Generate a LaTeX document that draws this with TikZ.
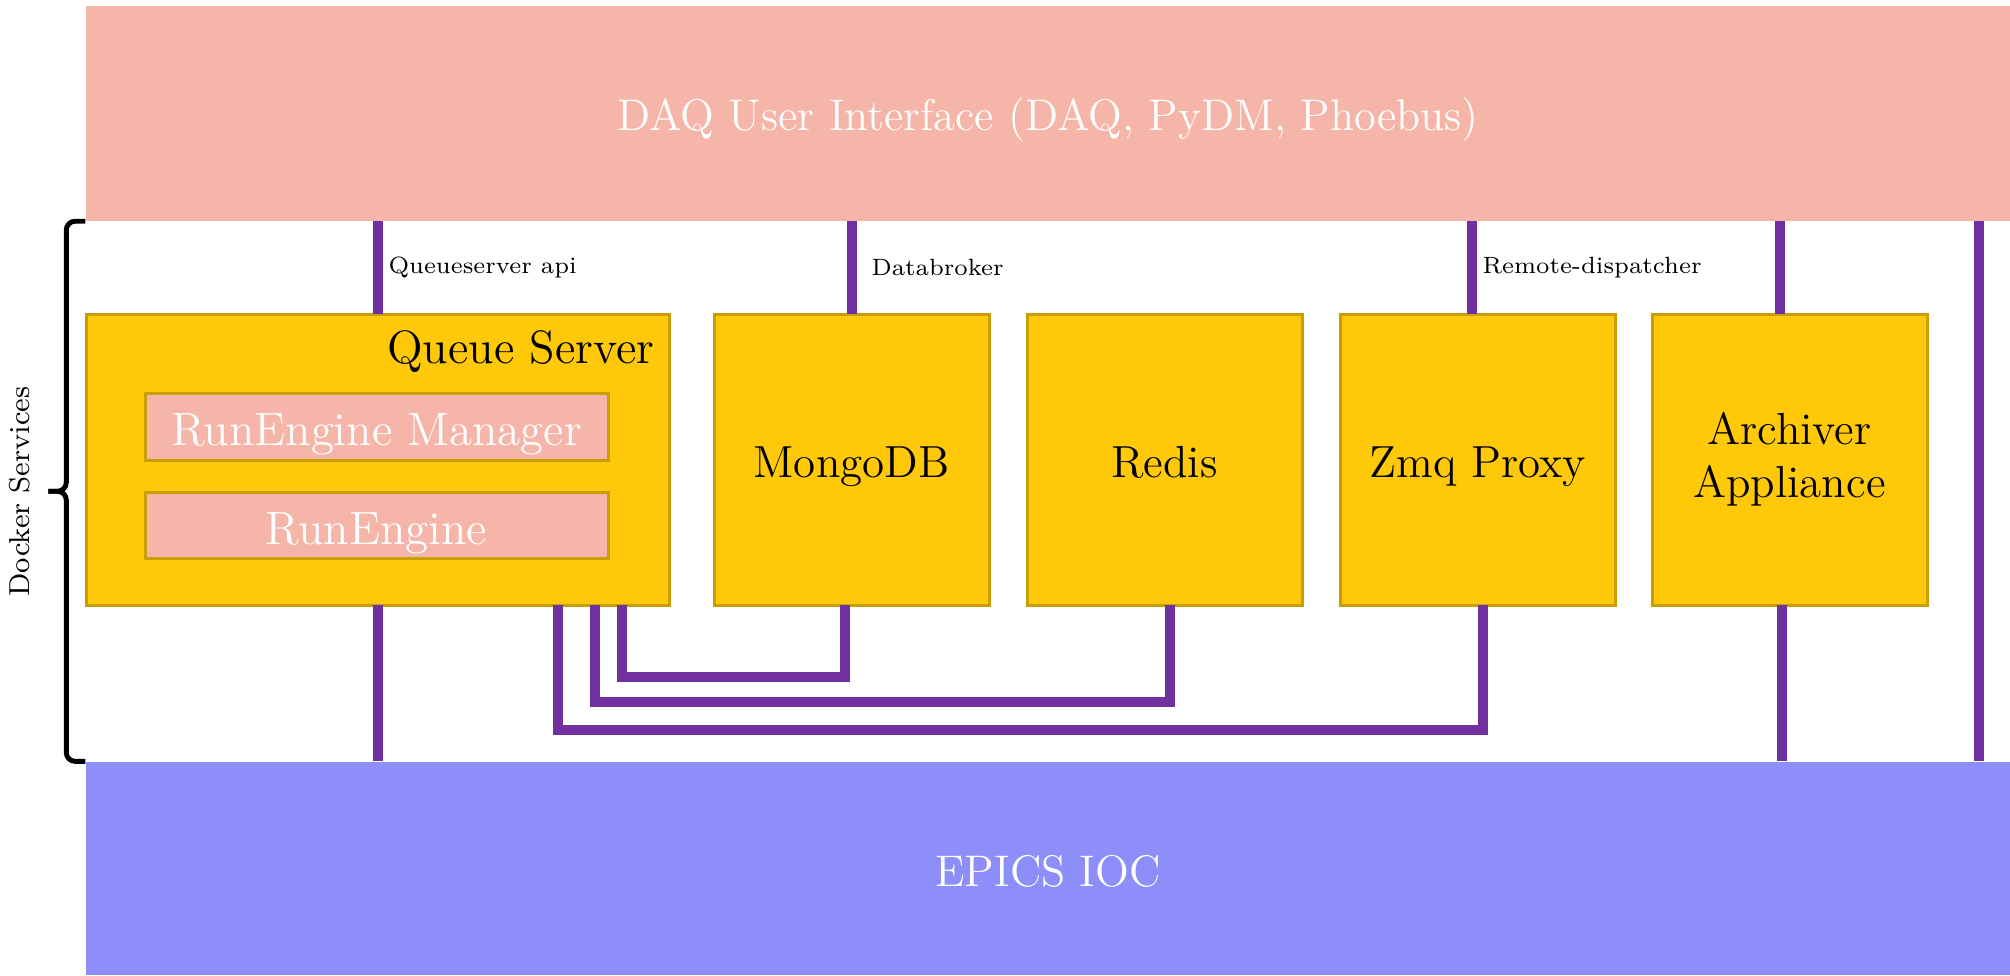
\documentclass[tikz,border=0pt]{standalone}
\usetikzlibrary{positioning,calc}
\definecolor{salmon}{HTML}{F5B5A8}
\definecolor{periwinkle}{HTML}{8E8EFA}
\definecolor{gold}{HTML}{FFC90A}
\definecolor{darkgold}{HTML}{C89E00}
\definecolor{linkpurple}{HTML}{7030A0}
\tikzset{bar/.style={fill=salmon,minimum width=19.24cm,inner sep=0,text=white,text height=10pt,text depth=0pt,font=\fontsize{12.6}{15}\selectfont},svc/.style={draw=darkgold,line width=0.03cm,fill=gold,minimum width=2.75cm,minimum height=2.91cm,inner sep=0,outer sep=0,align=center,font=\fontsize{12.8}{15}\selectfont},oneline/.style={text height=10.2pt,text depth=0pt},sub/.style={draw=darkgold,line width=0.03cm,fill=salmon,minimum width=4.63cm,minimum height=0.665cm,inner sep=0,outer sep=0,text=white,text height=10.6pt,text depth=0pt,font=\fontsize{13.3}{16}\selectfont},link/.style={linkpurple,line width=0.1cm},lbl/.style={text=black,font=\fontsize{6.7}{8}\selectfont,inner sep=0},bracket/.style={line width=1.4pt,rounded corners=2.5pt}}

\begin{document}
\begin{tikzpicture}[node distance=0.38cm]
\useasboundingbox (0,0) rectangle (20.10,-9.75);
\node[bar,minimum height=2.145cm] (ui) at (10.48,-1.1325) {DAQ User Interface (DAQ, PyDM, Phoebus)};
\node[bar,fill=periwinkle,minimum height=2.13cm] (epics) at (10.48,-8.685) {EPICS IOC};
\node[svc,minimum width=5.83cm] (qs) at (3.775,-4.595) {};
\node[anchor=base east,inner sep=0,font=\fontsize{13.3}{16}\selectfont] (qslbl) at ($(qs.north east)+(-0.14,-0.49)$) {Queue Server};
\node[sub] (rem) at (3.765,-4.27) {RunEngine Manager};
\node[sub,below=0.32cm of rem] (re) {RunEngine};
\node[svc,oneline,right=0.45cm of qs] (mongo) {MongoDB};
\node[svc,oneline,right=of mongo] (redis) {Redis};
\node[svc,oneline,right=of redis] (zmq) {Zmq Proxy};
\node[svc,right=0.37cm of zmq] (arch) {Archiver\\Appliance};
\coordinate (rt) at (19.79,0);
% links to the user interface
\draw[link] (ui.south -| qs.north) -- (qs.north) node[lbl,midway,right=0.06cm] (qsapi) {Queueserver api};
\draw[link] (ui.south -| mongo.north) -- (mongo.north) node[lbl,midway,right=0.15cm] (dbk) {Databroker};
\draw[link] ($(zmq.north)+(-0.06,0)$) coordinate (zmqtop) -- (zmqtop |- ui.south) node[lbl,midway,right=0.06cm] (rdisp) {Remote-dispatcher};
\draw[link] ($(arch.north)+(-0.095,0)$) coordinate (archtop) -- (archtop |- ui.south);
\draw[link] (ui.south -| rt) -- (epics.north -| rt);
% links to the IOC
\draw[link] (qs.south) -- (qs.south |- epics.north);
\draw[link] ($(arch.south)+(-0.075,0)$) coordinate (archbot) -- (archbot |- epics.north);
% queue server to the services
\draw[link] ($(qs.south east)+(-0.47,0)$) -- ++(0,-0.72) -| ($(mongo.south)+(-0.07,0)$);
\draw[link] ($(qs.south east)+(-0.74,0)$) -- ++(0,-0.97) -| ($(redis.south)+(0.055,0)$);
\draw[link] ($(qs.south east)+(-1.11,0)$) -- ++(0,-1.25) -| ($(zmq.south)+(0.055,0)$);
% docker brace
\coordinate (mid) at ($(ui.south west)!0.5!(epics.north west)$);
\draw[bracket] (ui.south west) -- ++(-0.19,0) |- ($(mid)+(-0.37,0)$);
\draw[bracket] (epics.north west) -- ++(-0.19,0) |- ($(mid)+(-0.37,0)$);
\node[rotate=90,inner sep=0,font=\fontsize{8.2}{10}\selectfont] (docker) at (0.20,-4.915) {Docker Services};
\end{tikzpicture}
\end{document}
